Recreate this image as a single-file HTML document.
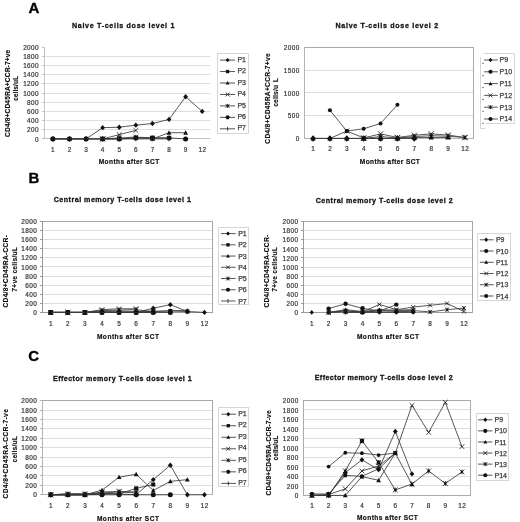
<!DOCTYPE html>
<html><head><meta charset="utf-8"><style>
html,body{margin:0;padding:0;background:#fff;width:520px;height:522px;overflow:hidden}
svg{display:block;filter:blur(0.3px)}
text{font-family:"Liberation Sans", sans-serif;fill:#333}
.t7{font-size:7px;stroke:#444;stroke-width:0.25px}
.tn{font-size:7.3px;letter-spacing:0.45px;stroke:#444;stroke-width:0.25px}
.tb{font-size:7.9px;font-weight:bold;fill:#111;stroke:#111;stroke-width:0.3px}
.tm{font-size:7.3px;font-weight:bold;fill:#111;stroke:#111;stroke-width:0.2px}
.ty{font-size:7.4px;font-weight:bold;fill:#111;stroke:#111;stroke-width:0.15px}
.big{font-size:15px;font-weight:bold;fill:#000;stroke:#000;stroke-width:0.35px}
</style></head><body>
<svg width="520" height="522" viewBox="0 0 520 522">
<rect width="520" height="522" fill="#fff"/>
<text x="28.5" y="12.9" class="big">A</text>
<text x="28.5" y="182.7" class="big">B</text>
<text x="28.2" y="360.8" class="big">C</text>
<line x1="44.60" y1="129.50" x2="210.50" y2="129.50" stroke="#dedede" stroke-width="1"/>
<line x1="44.60" y1="120.50" x2="210.50" y2="120.50" stroke="#dedede" stroke-width="1"/>
<line x1="44.60" y1="111.50" x2="210.50" y2="111.50" stroke="#dedede" stroke-width="1"/>
<line x1="44.60" y1="102.50" x2="210.50" y2="102.50" stroke="#dedede" stroke-width="1"/>
<line x1="44.60" y1="93.50" x2="210.50" y2="93.50" stroke="#dedede" stroke-width="1"/>
<line x1="44.60" y1="83.50" x2="210.50" y2="83.50" stroke="#dedede" stroke-width="1"/>
<line x1="44.60" y1="74.50" x2="210.50" y2="74.50" stroke="#dedede" stroke-width="1"/>
<line x1="44.60" y1="65.50" x2="210.50" y2="65.50" stroke="#dedede" stroke-width="1"/>
<line x1="44.60" y1="56.50" x2="210.50" y2="56.50" stroke="#dedede" stroke-width="1"/>
<line x1="44.50" y1="47.00" x2="44.50" y2="139.00" stroke="#c4c4c4" stroke-width="1"/>
<line x1="44.00" y1="138.50" x2="210.50" y2="138.50" stroke="#c4c4c4" stroke-width="1"/>
<line x1="42.00" y1="138.50" x2="44.50" y2="138.50" stroke="#c4c4c4" stroke-width="1"/>
<text transform="translate(39.00 141.50) scale(0.88,1)" text-anchor="end" class="tn">0</text>
<line x1="42.00" y1="129.50" x2="44.50" y2="129.50" stroke="#c4c4c4" stroke-width="1"/>
<text transform="translate(39.00 132.33) scale(0.88,1)" text-anchor="end" class="tn">200</text>
<line x1="42.00" y1="120.50" x2="44.50" y2="120.50" stroke="#c4c4c4" stroke-width="1"/>
<text transform="translate(39.00 123.16) scale(0.88,1)" text-anchor="end" class="tn">400</text>
<line x1="42.00" y1="111.50" x2="44.50" y2="111.50" stroke="#c4c4c4" stroke-width="1"/>
<text transform="translate(39.00 113.99) scale(0.88,1)" text-anchor="end" class="tn">600</text>
<line x1="42.00" y1="102.50" x2="44.50" y2="102.50" stroke="#c4c4c4" stroke-width="1"/>
<text transform="translate(39.00 104.82) scale(0.88,1)" text-anchor="end" class="tn">800</text>
<line x1="42.00" y1="93.50" x2="44.50" y2="93.50" stroke="#c4c4c4" stroke-width="1"/>
<text transform="translate(39.00 95.65) scale(0.88,1)" text-anchor="end" class="tn">1000</text>
<line x1="42.00" y1="83.50" x2="44.50" y2="83.50" stroke="#c4c4c4" stroke-width="1"/>
<text transform="translate(39.00 86.48) scale(0.88,1)" text-anchor="end" class="tn">1200</text>
<line x1="42.00" y1="74.50" x2="44.50" y2="74.50" stroke="#c4c4c4" stroke-width="1"/>
<text transform="translate(39.00 77.31) scale(0.88,1)" text-anchor="end" class="tn">1400</text>
<line x1="42.00" y1="65.50" x2="44.50" y2="65.50" stroke="#c4c4c4" stroke-width="1"/>
<text transform="translate(39.00 68.14) scale(0.88,1)" text-anchor="end" class="tn">1600</text>
<line x1="42.00" y1="56.50" x2="44.50" y2="56.50" stroke="#c4c4c4" stroke-width="1"/>
<text transform="translate(39.00 58.97) scale(0.88,1)" text-anchor="end" class="tn">1800</text>
<line x1="42.00" y1="47.50" x2="44.50" y2="47.50" stroke="#c4c4c4" stroke-width="1"/>
<text transform="translate(39.00 49.80) scale(0.88,1)" text-anchor="end" class="tn">2000</text>
<text transform="translate(53.09 151.70) scale(0.88,1)" text-anchor="middle" class="tn">1</text>
<text transform="translate(69.68 151.70) scale(0.88,1)" text-anchor="middle" class="tn">2</text>
<text transform="translate(86.27 151.70) scale(0.88,1)" text-anchor="middle" class="tn">3</text>
<text transform="translate(102.86 151.70) scale(0.88,1)" text-anchor="middle" class="tn">4</text>
<text transform="translate(119.45 151.70) scale(0.88,1)" text-anchor="middle" class="tn">5</text>
<text transform="translate(136.04 151.70) scale(0.88,1)" text-anchor="middle" class="tn">6</text>
<text transform="translate(152.63 151.70) scale(0.88,1)" text-anchor="middle" class="tn">7</text>
<text transform="translate(169.22 151.70) scale(0.88,1)" text-anchor="middle" class="tn">8</text>
<text transform="translate(185.81 151.70) scale(0.88,1)" text-anchor="middle" class="tn">9</text>
<text transform="translate(202.40 151.70) scale(0.88,1)" text-anchor="middle" class="tn">12</text>
<text transform="translate(72.00 27.70) scale(0.9,1)" class="tb" textLength="113.78" lengthAdjust="spacing">Naive T-cells dose level 1</text>
<text transform="translate(98.70 164.20) scale(0.9,1)" class="tm" textLength="67.22" lengthAdjust="spacing">Months after SCT</text>
<text transform="translate(9.60 93.35) rotate(-90) scale(0.9,1)" x="0" y="0" text-anchor="middle" class="ty" textLength="96.78" lengthAdjust="spacing">CD4/8+CD45RA+CCR-7+ve</text>
<text transform="translate(18.30 88.40) rotate(-90) scale(0.9,1)" x="0" y="0" text-anchor="middle" class="ty" textLength="27.78" lengthAdjust="spacing">cells/uL</text>
<path d="M52.90 138.90 L69.48 138.90 L86.08 138.90 L102.66 127.67 L119.25 127.21 L135.84 125.15 L152.44 123.54 L169.03 119.41 L185.61 96.72 L202.20 111.39" stroke="#3a3a3a" stroke-width="0.85" fill="none"/>
<path d="M52.90 136.21L55.30 138.90L52.90 141.59L50.50 138.90Z" fill="#111"/>
<path d="M69.48 136.21L71.89 138.90L69.48 141.59L67.08 138.90Z" fill="#111"/>
<path d="M86.08 136.21L88.48 138.90L86.08 141.59L83.67 138.90Z" fill="#111"/>
<path d="M102.66 124.98L105.06 127.67L102.66 130.35L100.26 127.67Z" fill="#111"/>
<path d="M119.25 124.52L121.66 127.21L119.25 129.90L116.85 127.21Z" fill="#111"/>
<path d="M135.84 122.46L138.25 125.15L135.84 127.83L133.44 125.15Z" fill="#111"/>
<path d="M152.44 120.85L154.84 123.54L152.44 126.23L150.03 123.54Z" fill="#111"/>
<path d="M169.03 116.73L171.43 119.41L169.03 122.10L166.62 119.41Z" fill="#111"/>
<path d="M185.61 94.03L188.01 96.72L185.61 99.41L183.21 96.72Z" fill="#111"/>
<path d="M202.20 108.70L204.60 111.39L202.20 114.08L199.80 111.39Z" fill="#111"/>
<path d="M52.90 138.90 L69.48 138.90 L86.08 138.90 L102.66 138.90 L119.25 138.90 L135.84 137.98 L152.44 137.98 L169.03 137.98" stroke="#3a3a3a" stroke-width="0.85" fill="none"/>
<rect x="50.86" y="136.86" width="4.08" height="4.08" fill="#111"/>
<rect x="67.44" y="136.86" width="4.08" height="4.08" fill="#111"/>
<rect x="84.03" y="136.86" width="4.08" height="4.08" fill="#111"/>
<rect x="100.62" y="136.86" width="4.08" height="4.08" fill="#111"/>
<rect x="117.21" y="136.86" width="4.08" height="4.08" fill="#111"/>
<rect x="133.81" y="135.94" width="4.08" height="4.08" fill="#111"/>
<rect x="150.40" y="135.94" width="4.08" height="4.08" fill="#111"/>
<rect x="166.99" y="135.94" width="4.08" height="4.08" fill="#111"/>
<path d="M152.44 138.90 L169.03 132.71 L185.61 132.71" stroke="#3a3a3a" stroke-width="0.85" fill="none"/>
<path d="M152.44 136.50L154.84 140.82L150.03 140.82Z" fill="#111"/>
<path d="M169.03 130.31L171.43 134.63L166.62 134.63Z" fill="#111"/>
<path d="M185.61 130.31L188.01 134.63L183.21 134.63Z" fill="#111"/>
<path d="M102.66 138.90 L119.25 134.64 L135.84 130.42" stroke="#3a3a3a" stroke-width="0.85" fill="none"/>
<path d="M100.26 136.50L105.06 141.30M105.06 136.50L100.26 141.30" stroke="#111" stroke-width="0.8" fill="none"/>
<path d="M116.85 132.24L121.66 137.04M121.66 132.24L116.85 137.04" stroke="#111" stroke-width="0.8" fill="none"/>
<path d="M133.44 128.02L138.25 132.82M138.25 128.02L133.44 132.82" stroke="#111" stroke-width="0.8" fill="none"/>
<path d="M102.66 138.90 L119.25 137.98 L135.84 137.07 L152.44 137.98" stroke="#3a3a3a" stroke-width="0.85" fill="none"/>
<path d="M100.26 136.50L105.06 141.30M105.06 136.50L100.26 141.30M102.66 136.50L102.66 141.30" stroke="#111" stroke-width="0.8" fill="none"/><rect x="101.58" y="137.82" width="2.16" height="2.16" fill="#111"/>
<path d="M116.85 135.58L121.66 140.38M121.66 135.58L116.85 140.38M119.25 135.58L119.25 140.38" stroke="#111" stroke-width="0.8" fill="none"/><rect x="118.17" y="136.90" width="2.16" height="2.16" fill="#111"/>
<path d="M133.44 134.67L138.25 139.47M138.25 134.67L133.44 139.47M135.84 134.67L135.84 139.47" stroke="#111" stroke-width="0.8" fill="none"/><rect x="134.76" y="135.99" width="2.16" height="2.16" fill="#111"/>
<path d="M150.03 135.58L154.84 140.38M154.84 135.58L150.03 140.38M152.44 135.58L152.44 140.38" stroke="#111" stroke-width="0.8" fill="none"/><rect x="151.35" y="136.90" width="2.16" height="2.16" fill="#111"/>
<path d="M52.90 138.90 L69.48 138.90 L86.08 138.90 L102.66 138.90 L119.25 138.90 L135.84 137.98 L152.44 137.98 L169.03 137.98 L185.61 138.90" stroke="#3a3a3a" stroke-width="0.85" fill="none"/>
<circle cx="52.90" cy="138.90" r="2.52" fill="#111"/>
<circle cx="69.48" cy="138.90" r="2.52" fill="#111"/>
<circle cx="86.08" cy="138.90" r="2.52" fill="#111"/>
<circle cx="102.66" cy="138.90" r="2.52" fill="#111"/>
<circle cx="119.25" cy="138.90" r="2.52" fill="#111"/>
<circle cx="135.84" cy="137.98" r="2.52" fill="#111"/>
<circle cx="152.44" cy="137.98" r="2.52" fill="#111"/>
<circle cx="169.03" cy="137.98" r="2.52" fill="#111"/>
<circle cx="185.61" cy="138.90" r="2.52" fill="#111"/>
<path d="M52.90 138.90 L69.48 138.90 L86.08 138.90 L102.66 138.90 L119.25 138.90 L135.84 138.90 L152.44 138.90 L169.03 138.90" stroke="#3a3a3a" stroke-width="0.85" fill="none"/>
<path d="M52.90 136.50L52.90 141.30" stroke="#111" stroke-width="0.8" fill="none"/>
<path d="M69.48 136.50L69.48 141.30" stroke="#111" stroke-width="0.8" fill="none"/>
<path d="M86.08 136.50L86.08 141.30" stroke="#111" stroke-width="0.8" fill="none"/>
<path d="M102.66 136.50L102.66 141.30" stroke="#111" stroke-width="0.8" fill="none"/>
<path d="M119.25 136.50L119.25 141.30" stroke="#111" stroke-width="0.8" fill="none"/>
<path d="M135.84 136.50L135.84 141.30" stroke="#111" stroke-width="0.8" fill="none"/>
<path d="M152.44 136.50L152.44 141.30" stroke="#111" stroke-width="0.8" fill="none"/>
<path d="M169.03 136.50L169.03 141.30" stroke="#111" stroke-width="0.8" fill="none"/>
<rect x="217.50" y="53.50" width="31.00" height="80.00" fill="none" stroke="#d6d6d6" stroke-width="1"/>
<line x1="219.90" y1="60.10" x2="235.00" y2="60.10" stroke="#555" stroke-width="1"/>
<path d="M227.60 57.92L229.55 60.10L227.60 62.28L225.65 60.10Z" fill="#111"/>
<text x="237.40" y="61.70" class="t7">P1</text>
<line x1="219.90" y1="71.55" x2="235.00" y2="71.55" stroke="#555" stroke-width="1"/>
<rect x="225.94" y="69.89" width="3.31" height="3.31" fill="#111"/>
<text x="237.40" y="73.15" class="t7">P2</text>
<line x1="219.90" y1="83.00" x2="235.00" y2="83.00" stroke="#555" stroke-width="1"/>
<path d="M227.60 81.05L229.55 84.56L225.65 84.56Z" fill="#111"/>
<text x="237.40" y="84.60" class="t7">P3</text>
<line x1="219.90" y1="94.45" x2="235.00" y2="94.45" stroke="#555" stroke-width="1"/>
<path d="M225.65 92.50L229.55 96.40M229.55 92.50L225.65 96.40" stroke="#111" stroke-width="0.8" fill="none"/>
<text x="237.40" y="96.05" class="t7">P4</text>
<line x1="219.90" y1="105.90" x2="235.00" y2="105.90" stroke="#555" stroke-width="1"/>
<path d="M225.65 103.95L229.55 107.85M229.55 103.95L225.65 107.85M227.60 103.95L227.60 107.85" stroke="#111" stroke-width="0.8" fill="none"/><rect x="226.72" y="105.02" width="1.75" height="1.75" fill="#111"/>
<text x="237.40" y="107.50" class="t7">P5</text>
<line x1="219.90" y1="117.35" x2="235.00" y2="117.35" stroke="#555" stroke-width="1"/>
<circle cx="227.60" cy="117.35" r="2.05" fill="#111"/>
<text x="237.40" y="118.95" class="t7">P6</text>
<line x1="219.90" y1="128.80" x2="235.00" y2="128.80" stroke="#555" stroke-width="1"/>
<path d="M227.60 126.85L227.60 130.75" stroke="#111" stroke-width="0.8" fill="none"/>
<text x="237.40" y="130.40" class="t7">P7</text>
<line x1="304.60" y1="115.50" x2="473.40" y2="115.50" stroke="#dedede" stroke-width="1"/>
<line x1="304.60" y1="92.50" x2="473.40" y2="92.50" stroke="#dedede" stroke-width="1"/>
<line x1="304.60" y1="70.50" x2="473.40" y2="70.50" stroke="#dedede" stroke-width="1"/>
<line x1="304.60" y1="47.50" x2="473.40" y2="47.50" stroke="#dedede" stroke-width="1"/>
<rect x="304.50" y="47.50" width="169.00" height="91.00" fill="none" stroke="#a8a8a8" stroke-width="1"/>
<line x1="304.50" y1="47.00" x2="304.50" y2="139.00" stroke="#b4b4b4" stroke-width="1"/>
<line x1="304.00" y1="138.50" x2="473.50" y2="138.50" stroke="#b4b4b4" stroke-width="1"/>
<text transform="translate(299.60 141.00) scale(0.88,1)" text-anchor="end" class="tn">0</text>
<text transform="translate(299.60 118.30) scale(0.88,1)" text-anchor="end" class="tn">500</text>
<text transform="translate(299.60 95.60) scale(0.88,1)" text-anchor="end" class="tn">1000</text>
<text transform="translate(299.60 72.90) scale(0.88,1)" text-anchor="end" class="tn">1500</text>
<text transform="translate(299.60 50.20) scale(0.88,1)" text-anchor="end" class="tn">2000</text>
<text transform="translate(313.24 151.30) scale(0.88,1)" text-anchor="middle" class="tn">1</text>
<text transform="translate(330.12 151.30) scale(0.88,1)" text-anchor="middle" class="tn">2</text>
<text transform="translate(347.00 151.30) scale(0.88,1)" text-anchor="middle" class="tn">3</text>
<text transform="translate(363.88 151.30) scale(0.88,1)" text-anchor="middle" class="tn">4</text>
<text transform="translate(380.76 151.30) scale(0.88,1)" text-anchor="middle" class="tn">5</text>
<text transform="translate(397.64 151.30) scale(0.88,1)" text-anchor="middle" class="tn">6</text>
<text transform="translate(414.52 151.30) scale(0.88,1)" text-anchor="middle" class="tn">7</text>
<text transform="translate(431.40 151.30) scale(0.88,1)" text-anchor="middle" class="tn">8</text>
<text transform="translate(448.28 151.30) scale(0.88,1)" text-anchor="middle" class="tn">9</text>
<text transform="translate(465.16 151.30) scale(0.88,1)" text-anchor="middle" class="tn">12</text>
<text transform="translate(335.50 28.30) scale(0.9,1)" class="tb" textLength="114.00" lengthAdjust="spacing">Naive T-cells dose level 2</text>
<text transform="translate(359.80 164.20) scale(0.9,1)" class="tm" textLength="66.67" lengthAdjust="spacing">Months after SCT</text>
<text transform="translate(270.40 98.55) rotate(-90) scale(0.9,1)" x="0" y="0" text-anchor="middle" class="ty" textLength="100.33" lengthAdjust="spacing">CD4/8+CD45RA+CCR-7+ve</text>
<text transform="translate(278.40 95.90) rotate(-90) scale(0.9,1)" x="0" y="0" text-anchor="middle" class="ty" textLength="24.22" lengthAdjust="spacing">cells/u</text>
<text transform="translate(278.20 80.30) rotate(-90) scale(0.9,1)" x="0" y="0" text-anchor="middle" class="ty">L</text>
<path d="M329.92 138.40 L346.80 131.05 L363.68 128.78 L380.56 123.42 L397.44 104.80" stroke="#3a3a3a" stroke-width="0.85" fill="none"/>
<circle cx="329.92" cy="138.40" r="1.99" fill="#111"/>
<circle cx="346.80" cy="131.05" r="1.99" fill="#111"/>
<circle cx="363.68" cy="128.78" r="1.99" fill="#111"/>
<circle cx="380.56" cy="123.42" r="1.99" fill="#111"/>
<circle cx="397.44" cy="104.80" r="1.99" fill="#111"/>
<path d="M313.04 138.40 L329.92 138.40 L346.80 138.40 L363.68 138.40 L380.56 138.40 L397.44 138.40 L414.32 137.49 L431.20 137.49 L448.08 137.49" stroke="#3a3a3a" stroke-width="0.85" fill="none"/>
<path d="M313.04 135.80L315.64 140.48L310.44 140.48Z" fill="#111"/>
<path d="M329.92 135.80L332.52 140.48L327.32 140.48Z" fill="#111"/>
<path d="M346.80 135.80L349.40 140.48L344.20 140.48Z" fill="#111"/>
<path d="M363.68 135.80L366.28 140.48L361.08 140.48Z" fill="#111"/>
<path d="M380.56 135.80L383.16 140.48L377.96 140.48Z" fill="#111"/>
<path d="M397.44 135.80L400.04 140.48L394.84 140.48Z" fill="#111"/>
<path d="M414.32 134.89L416.92 139.57L411.72 139.57Z" fill="#111"/>
<path d="M431.20 134.89L433.80 139.57L428.60 139.57Z" fill="#111"/>
<path d="M448.08 134.89L450.68 139.57L445.48 139.57Z" fill="#111"/>
<path d="M346.80 131.05 L363.68 137.95 L380.56 133.86 L397.44 137.49 L414.32 135.27 L431.20 133.86 L448.08 135.09 L464.96 137.49" stroke="#3a3a3a" stroke-width="0.85" fill="none"/>
<path d="M344.20 128.45L349.40 133.65M349.40 128.45L344.20 133.65" stroke="#111" stroke-width="0.8" fill="none"/>
<path d="M361.08 135.35L366.28 140.55M366.28 135.35L361.08 140.55" stroke="#111" stroke-width="0.8" fill="none"/>
<path d="M377.96 131.26L383.16 136.46M383.16 131.26L377.96 136.46" stroke="#111" stroke-width="0.8" fill="none"/>
<path d="M394.84 134.89L400.04 140.09M400.04 134.89L394.84 140.09" stroke="#111" stroke-width="0.8" fill="none"/>
<path d="M411.72 132.67L416.92 137.87M416.92 132.67L411.72 137.87" stroke="#111" stroke-width="0.8" fill="none"/>
<path d="M428.60 131.26L433.80 136.46M433.80 131.26L428.60 136.46" stroke="#111" stroke-width="0.8" fill="none"/>
<path d="M445.48 132.49L450.68 137.69M450.68 132.49L445.48 137.69" stroke="#111" stroke-width="0.8" fill="none"/>
<path d="M462.36 134.89L467.56 140.09M467.56 134.89L462.36 140.09" stroke="#111" stroke-width="0.8" fill="none"/>
<path d="M363.68 138.40 L380.56 136.58 L397.44 137.95 L414.32 136.58 L431.20 135.68 L448.08 136.27 L464.96 137.49" stroke="#3a3a3a" stroke-width="0.85" fill="none"/>
<path d="M361.08 135.80L366.28 141.00M366.28 135.80L361.08 141.00M363.68 135.80L363.68 141.00" stroke="#111" stroke-width="0.8" fill="none"/><rect x="362.51" y="137.23" width="2.34" height="2.34" fill="#111"/>
<path d="M377.96 133.98L383.16 139.18M383.16 133.98L377.96 139.18M380.56 133.98L380.56 139.18" stroke="#111" stroke-width="0.8" fill="none"/><rect x="379.39" y="135.41" width="2.34" height="2.34" fill="#111"/>
<path d="M394.84 135.35L400.04 140.55M400.04 135.35L394.84 140.55M397.44 135.35L397.44 140.55" stroke="#111" stroke-width="0.8" fill="none"/><rect x="396.27" y="136.78" width="2.34" height="2.34" fill="#111"/>
<path d="M411.72 133.98L416.92 139.18M416.92 133.98L411.72 139.18M414.32 133.98L414.32 139.18" stroke="#111" stroke-width="0.8" fill="none"/><rect x="413.15" y="135.41" width="2.34" height="2.34" fill="#111"/>
<path d="M428.60 133.08L433.80 138.28M433.80 133.08L428.60 138.28M431.20 133.08L431.20 138.28" stroke="#111" stroke-width="0.8" fill="none"/><rect x="430.03" y="134.51" width="2.34" height="2.34" fill="#111"/>
<path d="M445.48 133.67L450.68 138.87M450.68 133.67L445.48 138.87M448.08 133.67L448.08 138.87" stroke="#111" stroke-width="0.8" fill="none"/><rect x="446.91" y="135.10" width="2.34" height="2.34" fill="#111"/>
<path d="M462.36 134.89L467.56 140.09M467.56 134.89L462.36 140.09M464.96 134.89L464.96 140.09" stroke="#111" stroke-width="0.8" fill="none"/><rect x="463.79" y="136.32" width="2.34" height="2.34" fill="#111"/>
<path d="M329.92 110.25 L346.80 131.05" stroke="#3a3a3a" stroke-width="0.85" fill="none"/>
<circle cx="329.92" cy="110.25" r="1.99" fill="#111"/>
<circle cx="346.80" cy="131.05" r="1.99" fill="#111"/>
<path d="M313.04 138.40 L329.92 138.40 L346.80 138.40 L363.68 138.40 L380.56 138.40 L397.44 138.40 L414.32 138.40" stroke="#3a3a3a" stroke-width="0.85" fill="none"/>
<path d="M313.04 135.15L315.94 138.40L313.04 141.65L310.14 138.40Z" fill="#111"/>
<path d="M329.92 135.15L332.82 138.40L329.92 141.65L327.02 138.40Z" fill="#111"/>
<path d="M346.80 135.15L349.70 138.40L346.80 141.65L343.90 138.40Z" fill="#111"/>
<path d="M363.68 135.15L366.58 138.40L363.68 141.65L360.78 138.40Z" fill="#111"/>
<path d="M380.56 135.15L383.46 138.40L380.56 141.65L377.66 138.40Z" fill="#111"/>
<path d="M397.44 135.15L400.34 138.40L397.44 141.65L394.54 138.40Z" fill="#111"/>
<path d="M414.32 135.15L417.22 138.40L414.32 141.65L411.42 138.40Z" fill="#111"/>
<path d="M483.5 53.5H514.5V123.5H485.5" fill="none" stroke="#d6d6d6" stroke-width="1"/>
<path d="M480.5 57L480.5 128.5L485 128.5" fill="none" stroke="#d6d6d6" stroke-width="1"/>
<line x1="482" y1="63.4" x2="484" y2="63.4" stroke="#666" stroke-width="0.8"/>
<line x1="482" y1="75.6" x2="484" y2="75.6" stroke="#666" stroke-width="0.8"/>
<line x1="482" y1="87.6" x2="484" y2="87.6" stroke="#666" stroke-width="0.8"/>
<line x1="482" y1="99.4" x2="484" y2="99.4" stroke="#666" stroke-width="0.8"/>
<line x1="482" y1="111.3" x2="484" y2="111.3" stroke="#666" stroke-width="0.8"/>
<line x1="482" y1="123.2" x2="484" y2="123.2" stroke="#666" stroke-width="0.8"/>
<line x1="484.10" y1="60.00" x2="497.80" y2="60.00" stroke="#555" stroke-width="1"/>
<path d="M490.50 57.82L492.45 60.00L490.50 62.18L488.55 60.00Z" fill="#111"/>
<text x="499.60" y="62.40" class="t7">P9</text>
<line x1="484.10" y1="71.80" x2="497.80" y2="71.80" stroke="#555" stroke-width="1"/>
<circle cx="490.50" cy="71.80" r="2.05" fill="#111"/>
<text x="499.60" y="74.20" class="t7">P10</text>
<line x1="484.10" y1="83.60" x2="497.80" y2="83.60" stroke="#555" stroke-width="1"/>
<path d="M490.50 81.65L492.45 85.16L488.55 85.16Z" fill="#111"/>
<text x="499.60" y="86.00" class="t7">P11</text>
<line x1="484.10" y1="95.40" x2="497.80" y2="95.40" stroke="#555" stroke-width="1"/>
<path d="M488.55 93.45L492.45 97.35M492.45 93.45L488.55 97.35" stroke="#111" stroke-width="0.8" fill="none"/>
<text x="499.60" y="97.80" class="t7">P12</text>
<line x1="484.10" y1="107.20" x2="497.80" y2="107.20" stroke="#555" stroke-width="1"/>
<path d="M488.55 105.25L492.45 109.15M492.45 105.25L488.55 109.15M490.50 105.25L490.50 109.15" stroke="#111" stroke-width="0.8" fill="none"/><rect x="489.62" y="106.32" width="1.75" height="1.75" fill="#111"/>
<text x="499.60" y="109.60" class="t7">P13</text>
<line x1="484.10" y1="119.00" x2="497.80" y2="119.00" stroke="#555" stroke-width="1"/>
<circle cx="490.50" cy="119.00" r="2.05" fill="#111"/>
<text x="499.60" y="121.40" class="t7">P14</text>
<line x1="42.20" y1="303.50" x2="213.00" y2="303.50" stroke="#dedede" stroke-width="1"/>
<line x1="42.20" y1="294.50" x2="213.00" y2="294.50" stroke="#dedede" stroke-width="1"/>
<line x1="42.20" y1="285.50" x2="213.00" y2="285.50" stroke="#dedede" stroke-width="1"/>
<line x1="42.20" y1="276.50" x2="213.00" y2="276.50" stroke="#dedede" stroke-width="1"/>
<line x1="42.20" y1="266.50" x2="213.00" y2="266.50" stroke="#dedede" stroke-width="1"/>
<line x1="42.20" y1="257.50" x2="213.00" y2="257.50" stroke="#dedede" stroke-width="1"/>
<line x1="42.20" y1="248.50" x2="213.00" y2="248.50" stroke="#dedede" stroke-width="1"/>
<line x1="42.20" y1="239.50" x2="213.00" y2="239.50" stroke="#dedede" stroke-width="1"/>
<line x1="42.20" y1="230.50" x2="213.00" y2="230.50" stroke="#dedede" stroke-width="1"/>
<line x1="42.20" y1="221.50" x2="213.00" y2="221.50" stroke="#dedede" stroke-width="1"/>
<rect x="42.50" y="221.50" width="170.00" height="91.00" fill="none" stroke="#a8a8a8" stroke-width="1"/>
<line x1="42.50" y1="221.00" x2="42.50" y2="313.00" stroke="#9a9a9a" stroke-width="1"/>
<line x1="42.00" y1="312.50" x2="212.50" y2="312.50" stroke="#9a9a9a" stroke-width="1"/>
<line x1="40.00" y1="312.50" x2="42.50" y2="312.50" stroke="#9a9a9a" stroke-width="1"/>
<text transform="translate(37.20 315.00) scale(0.88,1)" text-anchor="end" class="tn">0</text>
<line x1="40.00" y1="303.50" x2="42.50" y2="303.50" stroke="#9a9a9a" stroke-width="1"/>
<text transform="translate(37.20 305.91) scale(0.88,1)" text-anchor="end" class="tn">200</text>
<line x1="40.00" y1="294.50" x2="42.50" y2="294.50" stroke="#9a9a9a" stroke-width="1"/>
<text transform="translate(37.20 296.82) scale(0.88,1)" text-anchor="end" class="tn">400</text>
<line x1="40.00" y1="285.50" x2="42.50" y2="285.50" stroke="#9a9a9a" stroke-width="1"/>
<text transform="translate(37.20 287.73) scale(0.88,1)" text-anchor="end" class="tn">600</text>
<line x1="40.00" y1="276.50" x2="42.50" y2="276.50" stroke="#9a9a9a" stroke-width="1"/>
<text transform="translate(37.20 278.64) scale(0.88,1)" text-anchor="end" class="tn">800</text>
<line x1="40.00" y1="266.50" x2="42.50" y2="266.50" stroke="#9a9a9a" stroke-width="1"/>
<text transform="translate(37.20 269.55) scale(0.88,1)" text-anchor="end" class="tn">1000</text>
<line x1="40.00" y1="257.50" x2="42.50" y2="257.50" stroke="#9a9a9a" stroke-width="1"/>
<text transform="translate(37.20 260.46) scale(0.88,1)" text-anchor="end" class="tn">1200</text>
<line x1="40.00" y1="248.50" x2="42.50" y2="248.50" stroke="#9a9a9a" stroke-width="1"/>
<text transform="translate(37.20 251.37) scale(0.88,1)" text-anchor="end" class="tn">1400</text>
<line x1="40.00" y1="239.50" x2="42.50" y2="239.50" stroke="#9a9a9a" stroke-width="1"/>
<text transform="translate(37.20 242.28) scale(0.88,1)" text-anchor="end" class="tn">1600</text>
<line x1="40.00" y1="230.50" x2="42.50" y2="230.50" stroke="#9a9a9a" stroke-width="1"/>
<text transform="translate(37.20 233.19) scale(0.88,1)" text-anchor="end" class="tn">1800</text>
<line x1="40.00" y1="221.50" x2="42.50" y2="221.50" stroke="#9a9a9a" stroke-width="1"/>
<text transform="translate(37.20 224.10) scale(0.88,1)" text-anchor="end" class="tn">2000</text>
<text transform="translate(50.94 325.70) scale(0.88,1)" text-anchor="middle" class="tn">1</text>
<text transform="translate(68.02 325.70) scale(0.88,1)" text-anchor="middle" class="tn">2</text>
<text transform="translate(85.10 325.70) scale(0.88,1)" text-anchor="middle" class="tn">3</text>
<text transform="translate(102.18 325.70) scale(0.88,1)" text-anchor="middle" class="tn">4</text>
<text transform="translate(119.26 325.70) scale(0.88,1)" text-anchor="middle" class="tn">5</text>
<text transform="translate(136.34 325.70) scale(0.88,1)" text-anchor="middle" class="tn">6</text>
<text transform="translate(153.42 325.70) scale(0.88,1)" text-anchor="middle" class="tn">7</text>
<text transform="translate(170.50 325.70) scale(0.88,1)" text-anchor="middle" class="tn">8</text>
<text transform="translate(187.58 325.70) scale(0.88,1)" text-anchor="middle" class="tn">9</text>
<text transform="translate(204.66 325.70) scale(0.88,1)" text-anchor="middle" class="tn">12</text>
<text transform="translate(53.70 202.40) scale(0.9,1)" class="tb" textLength="152.44" lengthAdjust="spacing">Central memory T-cells dose level 1</text>
<text transform="translate(96.90 338.60) scale(0.9,1)" class="tm" textLength="68.89" lengthAdjust="spacing">Months after SCT</text>
<text transform="translate(8.30 271.30) rotate(-90) scale(0.9,1)" x="0" y="0" text-anchor="middle" class="ty" textLength="80.44" lengthAdjust="spacing">CD4/8+CD45RA-CCR-</text>
<text transform="translate(16.60 269.40) rotate(-90) scale(0.9,1)" x="0" y="0" text-anchor="middle" class="ty" textLength="49.56" lengthAdjust="spacing">7+ve cells/uL</text>
<path d="M50.74 312.40 L67.82 312.40 L84.90 312.40 L101.98 311.95 L119.06 311.95 L136.14 312.40 L153.22 308.22 L170.30 304.67 L187.38 311.49 L204.46 312.40" stroke="#3a3a3a" stroke-width="0.85" fill="none"/>
<path d="M50.74 309.71L53.14 312.40L50.74 315.09L48.34 312.40Z" fill="#111"/>
<path d="M67.82 309.71L70.22 312.40L67.82 315.09L65.42 312.40Z" fill="#111"/>
<path d="M84.90 309.71L87.30 312.40L84.90 315.09L82.50 312.40Z" fill="#111"/>
<path d="M101.98 309.26L104.38 311.95L101.98 314.63L99.58 311.95Z" fill="#111"/>
<path d="M119.06 309.26L121.46 311.95L119.06 314.63L116.66 311.95Z" fill="#111"/>
<path d="M136.14 309.71L138.54 312.40L136.14 315.09L133.74 312.40Z" fill="#111"/>
<path d="M153.22 305.53L155.62 308.22L153.22 310.91L150.82 308.22Z" fill="#111"/>
<path d="M170.30 301.99L172.70 304.67L170.30 307.36L167.90 304.67Z" fill="#111"/>
<path d="M187.38 308.80L189.78 311.49L187.38 314.18L184.98 311.49Z" fill="#111"/>
<path d="M204.46 309.71L206.86 312.40L204.46 315.09L202.06 312.40Z" fill="#111"/>
<path d="M50.74 312.40 L67.82 312.40 L84.90 312.40 L101.98 312.40 L119.06 312.40 L136.14 312.40 L153.22 311.49 L170.30 311.04 L187.38 311.49" stroke="#3a3a3a" stroke-width="0.85" fill="none"/>
<rect x="48.70" y="310.36" width="4.08" height="4.08" fill="#111"/>
<rect x="65.78" y="310.36" width="4.08" height="4.08" fill="#111"/>
<rect x="82.86" y="310.36" width="4.08" height="4.08" fill="#111"/>
<rect x="99.94" y="310.36" width="4.08" height="4.08" fill="#111"/>
<rect x="117.02" y="310.36" width="4.08" height="4.08" fill="#111"/>
<rect x="134.10" y="310.36" width="4.08" height="4.08" fill="#111"/>
<rect x="151.18" y="309.45" width="4.08" height="4.08" fill="#111"/>
<rect x="168.26" y="309.00" width="4.08" height="4.08" fill="#111"/>
<rect x="185.34" y="309.45" width="4.08" height="4.08" fill="#111"/>
<path d="M50.74 312.40 L67.82 312.40 L84.90 312.40 L101.98 311.49 L119.06 311.04 L136.14 311.49 L153.22 311.49 L170.30 310.58 L187.38 310.58" stroke="#3a3a3a" stroke-width="0.85" fill="none"/>
<path d="M50.74 310.00L53.14 314.32L48.34 314.32Z" fill="#111"/>
<path d="M67.82 310.00L70.22 314.32L65.42 314.32Z" fill="#111"/>
<path d="M84.90 310.00L87.30 314.32L82.50 314.32Z" fill="#111"/>
<path d="M101.98 309.09L104.38 313.41L99.58 313.41Z" fill="#111"/>
<path d="M119.06 308.64L121.46 312.96L116.66 312.96Z" fill="#111"/>
<path d="M136.14 309.09L138.54 313.41L133.74 313.41Z" fill="#111"/>
<path d="M153.22 309.09L155.62 313.41L150.82 313.41Z" fill="#111"/>
<path d="M170.30 308.18L172.70 312.50L167.90 312.50Z" fill="#111"/>
<path d="M187.38 308.18L189.78 312.50L184.98 312.50Z" fill="#111"/>
<path d="M50.74 312.40 L67.82 312.40 L84.90 312.40 L101.98 309.67 L119.06 308.76 L136.14 308.76" stroke="#3a3a3a" stroke-width="0.85" fill="none"/>
<path d="M48.34 310.00L53.14 314.80M53.14 310.00L48.34 314.80" stroke="#111" stroke-width="0.8" fill="none"/>
<path d="M65.42 310.00L70.22 314.80M70.22 310.00L65.42 314.80" stroke="#111" stroke-width="0.8" fill="none"/>
<path d="M82.50 310.00L87.30 314.80M87.30 310.00L82.50 314.80" stroke="#111" stroke-width="0.8" fill="none"/>
<path d="M99.58 307.27L104.38 312.07M104.38 307.27L99.58 312.07" stroke="#111" stroke-width="0.8" fill="none"/>
<path d="M116.66 306.36L121.46 311.16M121.46 306.36L116.66 311.16" stroke="#111" stroke-width="0.8" fill="none"/>
<path d="M133.74 306.36L138.54 311.16M138.54 306.36L133.74 311.16" stroke="#111" stroke-width="0.8" fill="none"/>
<path d="M50.74 312.40 L67.82 312.40 L84.90 312.40 L101.98 310.58 L119.06 310.13 L136.14 309.67 L153.22 311.49" stroke="#3a3a3a" stroke-width="0.85" fill="none"/>
<path d="M48.34 310.00L53.14 314.80M53.14 310.00L48.34 314.80M50.74 310.00L50.74 314.80" stroke="#111" stroke-width="0.8" fill="none"/><rect x="49.66" y="311.32" width="2.16" height="2.16" fill="#111"/>
<path d="M65.42 310.00L70.22 314.80M70.22 310.00L65.42 314.80M67.82 310.00L67.82 314.80" stroke="#111" stroke-width="0.8" fill="none"/><rect x="66.74" y="311.32" width="2.16" height="2.16" fill="#111"/>
<path d="M82.50 310.00L87.30 314.80M87.30 310.00L82.50 314.80M84.90 310.00L84.90 314.80" stroke="#111" stroke-width="0.8" fill="none"/><rect x="83.82" y="311.32" width="2.16" height="2.16" fill="#111"/>
<path d="M99.58 308.18L104.38 312.98M104.38 308.18L99.58 312.98M101.98 308.18L101.98 312.98" stroke="#111" stroke-width="0.8" fill="none"/><rect x="100.90" y="309.50" width="2.16" height="2.16" fill="#111"/>
<path d="M116.66 307.73L121.46 312.53M121.46 307.73L116.66 312.53M119.06 307.73L119.06 312.53" stroke="#111" stroke-width="0.8" fill="none"/><rect x="117.98" y="309.05" width="2.16" height="2.16" fill="#111"/>
<path d="M133.74 307.27L138.54 312.07M138.54 307.27L133.74 312.07M136.14 307.27L136.14 312.07" stroke="#111" stroke-width="0.8" fill="none"/><rect x="135.06" y="308.59" width="2.16" height="2.16" fill="#111"/>
<path d="M150.82 309.09L155.62 313.89M155.62 309.09L150.82 313.89M153.22 309.09L153.22 313.89" stroke="#111" stroke-width="0.8" fill="none"/><rect x="152.14" y="310.41" width="2.16" height="2.16" fill="#111"/>
<path d="M50.74 312.40 L67.82 312.40 L84.90 312.40 L101.98 312.40 L119.06 312.40 L136.14 312.40 L153.22 312.40 L170.30 312.40" stroke="#3a3a3a" stroke-width="0.85" fill="none"/>
<circle cx="50.74" cy="312.40" r="2.52" fill="#111"/>
<circle cx="67.82" cy="312.40" r="2.52" fill="#111"/>
<circle cx="84.90" cy="312.40" r="2.52" fill="#111"/>
<circle cx="101.98" cy="312.40" r="2.52" fill="#111"/>
<circle cx="119.06" cy="312.40" r="2.52" fill="#111"/>
<circle cx="136.14" cy="312.40" r="2.52" fill="#111"/>
<circle cx="153.22" cy="312.40" r="2.52" fill="#111"/>
<circle cx="170.30" cy="312.40" r="2.52" fill="#111"/>
<path d="M50.74 312.40 L67.82 312.40 L84.90 312.40 L101.98 312.40 L119.06 312.40 L136.14 312.40 L153.22 312.40" stroke="#3a3a3a" stroke-width="0.85" fill="none"/>
<path d="M50.74 310.00L50.74 314.80" stroke="#111" stroke-width="0.8" fill="none"/>
<path d="M67.82 310.00L67.82 314.80" stroke="#111" stroke-width="0.8" fill="none"/>
<path d="M84.90 310.00L84.90 314.80" stroke="#111" stroke-width="0.8" fill="none"/>
<path d="M101.98 310.00L101.98 314.80" stroke="#111" stroke-width="0.8" fill="none"/>
<path d="M119.06 310.00L119.06 314.80" stroke="#111" stroke-width="0.8" fill="none"/>
<path d="M136.14 310.00L136.14 314.80" stroke="#111" stroke-width="0.8" fill="none"/>
<path d="M153.22 310.00L153.22 314.80" stroke="#111" stroke-width="0.8" fill="none"/>
<rect x="218.50" y="227.50" width="30.00" height="77.00" fill="none" stroke="#d6d6d6" stroke-width="1"/>
<line x1="221.00" y1="233.60" x2="235.60" y2="233.60" stroke="#555" stroke-width="1"/>
<path d="M228.00 231.42L229.95 233.60L228.00 235.78L226.05 233.60Z" fill="#111"/>
<text x="238.20" y="236.20" class="t7">P1</text>
<line x1="221.00" y1="244.83" x2="235.60" y2="244.83" stroke="#555" stroke-width="1"/>
<rect x="226.34" y="243.17" width="3.31" height="3.31" fill="#111"/>
<text x="238.20" y="247.43" class="t7">P2</text>
<line x1="221.00" y1="256.06" x2="235.60" y2="256.06" stroke="#555" stroke-width="1"/>
<path d="M228.00 254.11L229.95 257.62L226.05 257.62Z" fill="#111"/>
<text x="238.20" y="258.66" class="t7">P3</text>
<line x1="221.00" y1="267.29" x2="235.60" y2="267.29" stroke="#555" stroke-width="1"/>
<path d="M226.05 265.34L229.95 269.24M229.95 265.34L226.05 269.24" stroke="#111" stroke-width="0.8" fill="none"/>
<text x="238.20" y="269.89" class="t7">P4</text>
<line x1="221.00" y1="278.52" x2="235.60" y2="278.52" stroke="#555" stroke-width="1"/>
<path d="M226.05 276.57L229.95 280.47M229.95 276.57L226.05 280.47M228.00 276.57L228.00 280.47" stroke="#111" stroke-width="0.8" fill="none"/><rect x="227.12" y="277.64" width="1.75" height="1.75" fill="#111"/>
<text x="238.20" y="281.12" class="t7">P5</text>
<line x1="221.00" y1="289.75" x2="235.60" y2="289.75" stroke="#555" stroke-width="1"/>
<circle cx="228.00" cy="289.75" r="2.05" fill="#111"/>
<text x="238.20" y="292.35" class="t7">P6</text>
<line x1="221.00" y1="300.98" x2="235.60" y2="300.98" stroke="#555" stroke-width="1"/>
<path d="M228.00 299.03L228.00 302.93" stroke="#111" stroke-width="0.8" fill="none"/>
<text x="238.20" y="303.58" class="t7">P7</text>
<line x1="303.30" y1="303.50" x2="472.40" y2="303.50" stroke="#dedede" stroke-width="1"/>
<line x1="303.30" y1="294.50" x2="472.40" y2="294.50" stroke="#dedede" stroke-width="1"/>
<line x1="303.30" y1="285.50" x2="472.40" y2="285.50" stroke="#dedede" stroke-width="1"/>
<line x1="303.30" y1="276.50" x2="472.40" y2="276.50" stroke="#dedede" stroke-width="1"/>
<line x1="303.30" y1="267.50" x2="472.40" y2="267.50" stroke="#dedede" stroke-width="1"/>
<line x1="303.30" y1="257.50" x2="472.40" y2="257.50" stroke="#dedede" stroke-width="1"/>
<line x1="303.30" y1="248.50" x2="472.40" y2="248.50" stroke="#dedede" stroke-width="1"/>
<line x1="303.30" y1="239.50" x2="472.40" y2="239.50" stroke="#dedede" stroke-width="1"/>
<line x1="303.30" y1="230.50" x2="472.40" y2="230.50" stroke="#dedede" stroke-width="1"/>
<line x1="303.30" y1="221.50" x2="472.40" y2="221.50" stroke="#dedede" stroke-width="1"/>
<rect x="303.50" y="221.50" width="169.00" height="91.00" fill="none" stroke="#a8a8a8" stroke-width="1"/>
<line x1="303.50" y1="221.00" x2="303.50" y2="313.00" stroke="#9a9a9a" stroke-width="1"/>
<line x1="303.00" y1="312.50" x2="472.50" y2="312.50" stroke="#9a9a9a" stroke-width="1"/>
<line x1="301.00" y1="312.50" x2="303.50" y2="312.50" stroke="#9a9a9a" stroke-width="1"/>
<text transform="translate(298.40 315.00) scale(0.88,1)" text-anchor="end" class="tn">0</text>
<line x1="301.00" y1="303.50" x2="303.50" y2="303.50" stroke="#9a9a9a" stroke-width="1"/>
<text transform="translate(298.40 305.93) scale(0.88,1)" text-anchor="end" class="tn">200</text>
<line x1="301.00" y1="294.50" x2="303.50" y2="294.50" stroke="#9a9a9a" stroke-width="1"/>
<text transform="translate(298.40 296.86) scale(0.88,1)" text-anchor="end" class="tn">400</text>
<line x1="301.00" y1="285.50" x2="303.50" y2="285.50" stroke="#9a9a9a" stroke-width="1"/>
<text transform="translate(298.40 287.79) scale(0.88,1)" text-anchor="end" class="tn">600</text>
<line x1="301.00" y1="276.50" x2="303.50" y2="276.50" stroke="#9a9a9a" stroke-width="1"/>
<text transform="translate(298.40 278.72) scale(0.88,1)" text-anchor="end" class="tn">800</text>
<line x1="301.00" y1="267.50" x2="303.50" y2="267.50" stroke="#9a9a9a" stroke-width="1"/>
<text transform="translate(298.40 269.65) scale(0.88,1)" text-anchor="end" class="tn">1000</text>
<line x1="301.00" y1="257.50" x2="303.50" y2="257.50" stroke="#9a9a9a" stroke-width="1"/>
<text transform="translate(298.40 260.58) scale(0.88,1)" text-anchor="end" class="tn">1200</text>
<line x1="301.00" y1="248.50" x2="303.50" y2="248.50" stroke="#9a9a9a" stroke-width="1"/>
<text transform="translate(298.40 251.51) scale(0.88,1)" text-anchor="end" class="tn">1400</text>
<line x1="301.00" y1="239.50" x2="303.50" y2="239.50" stroke="#9a9a9a" stroke-width="1"/>
<text transform="translate(298.40 242.44) scale(0.88,1)" text-anchor="end" class="tn">1600</text>
<line x1="301.00" y1="230.50" x2="303.50" y2="230.50" stroke="#9a9a9a" stroke-width="1"/>
<text transform="translate(298.40 233.37) scale(0.88,1)" text-anchor="end" class="tn">1800</text>
<line x1="301.00" y1="221.50" x2="303.50" y2="221.50" stroke="#9a9a9a" stroke-width="1"/>
<text transform="translate(298.40 224.30) scale(0.88,1)" text-anchor="end" class="tn">2000</text>
<text transform="translate(311.95 325.70) scale(0.88,1)" text-anchor="middle" class="tn">1</text>
<text transform="translate(328.86 325.70) scale(0.88,1)" text-anchor="middle" class="tn">2</text>
<text transform="translate(345.77 325.70) scale(0.88,1)" text-anchor="middle" class="tn">3</text>
<text transform="translate(362.68 325.70) scale(0.88,1)" text-anchor="middle" class="tn">4</text>
<text transform="translate(379.59 325.70) scale(0.88,1)" text-anchor="middle" class="tn">5</text>
<text transform="translate(396.50 325.70) scale(0.88,1)" text-anchor="middle" class="tn">6</text>
<text transform="translate(413.41 325.70) scale(0.88,1)" text-anchor="middle" class="tn">7</text>
<text transform="translate(430.32 325.70) scale(0.88,1)" text-anchor="middle" class="tn">8</text>
<text transform="translate(447.23 325.70) scale(0.88,1)" text-anchor="middle" class="tn">9</text>
<text transform="translate(464.14 325.70) scale(0.88,1)" text-anchor="middle" class="tn">12</text>
<text transform="translate(315.70 202.50) scale(0.9,1)" class="tb" textLength="152.11" lengthAdjust="spacing">Central memory T-cells dose level 2</text>
<text transform="translate(356.90 338.70) scale(0.9,1)" class="tm" textLength="68.89" lengthAdjust="spacing">Months after SCT</text>
<text transform="translate(269.10 271.15) rotate(-90) scale(0.9,1)" x="0" y="0" text-anchor="middle" class="ty" textLength="81.00" lengthAdjust="spacing">CD4/8+CD45RA-CCR-</text>
<text transform="translate(277.00 269.50) rotate(-90) scale(0.9,1)" x="0" y="0" text-anchor="middle" class="ty" textLength="49.56" lengthAdjust="spacing">7+ve cells/uL</text>
<path d="M345.57 312.40 L362.49 312.40 L379.39 312.40 L396.31 312.40 L413.21 312.40" stroke="#3a3a3a" stroke-width="0.85" fill="none"/>
<path d="M311.75 310.05L313.86 312.40L311.75 314.75L309.65 312.40Z" fill="#111"/>
<path d="M345.57 310.05L347.68 312.40L345.57 314.75L343.47 312.40Z" fill="#111"/>
<path d="M362.49 310.05L364.59 312.40L362.49 314.75L360.38 312.40Z" fill="#111"/>
<path d="M379.39 310.05L381.50 312.40L379.39 314.75L377.29 312.40Z" fill="#111"/>
<path d="M396.31 310.05L398.41 312.40L396.31 314.75L394.20 312.40Z" fill="#111"/>
<path d="M413.21 310.05L415.31 312.40L413.21 314.75L411.11 312.40Z" fill="#111"/>
<path d="M328.67 312.40 L345.57 310.59 L362.49 312.40 L379.39 310.59 L396.31 311.49 L413.21 311.49" stroke="#3a3a3a" stroke-width="0.85" fill="none"/>
<circle cx="328.67" cy="312.40" r="2.21" fill="#111"/>
<circle cx="345.57" cy="310.59" r="2.21" fill="#111"/>
<circle cx="362.49" cy="312.40" r="2.21" fill="#111"/>
<circle cx="379.39" cy="310.59" r="2.21" fill="#111"/>
<circle cx="396.31" cy="311.49" r="2.21" fill="#111"/>
<circle cx="413.21" cy="311.49" r="2.21" fill="#111"/>
<path d="M328.67 312.40 L345.57 309.68 L362.49 311.49 L379.39 309.68 L396.31 310.13 L413.21 309.68" stroke="#3a3a3a" stroke-width="0.85" fill="none"/>
<path d="M328.67 310.30L330.77 314.08L326.56 314.08Z" fill="#111"/>
<path d="M345.57 307.58L347.68 311.36L343.47 311.36Z" fill="#111"/>
<path d="M362.49 309.39L364.59 313.17L360.38 313.17Z" fill="#111"/>
<path d="M379.39 307.58L381.50 311.36L377.29 311.36Z" fill="#111"/>
<path d="M396.31 308.03L398.41 311.81L394.20 311.81Z" fill="#111"/>
<path d="M413.21 307.58L415.31 311.36L411.11 311.36Z" fill="#111"/>
<path d="M328.67 312.40 L345.57 311.04 L362.49 311.95 L379.39 304.42 L396.31 309.68 L413.21 307.09 L430.12 305.37 L447.03 303.47 L463.94 311.49" stroke="#3a3a3a" stroke-width="0.85" fill="none"/>
<path d="M326.56 310.30L330.77 314.50M330.77 310.30L326.56 314.50" stroke="#111" stroke-width="0.8" fill="none"/>
<path d="M343.47 308.94L347.68 313.14M347.68 308.94L343.47 313.14" stroke="#111" stroke-width="0.8" fill="none"/>
<path d="M360.38 309.85L364.59 314.05M364.59 309.85L360.38 314.05" stroke="#111" stroke-width="0.8" fill="none"/>
<path d="M377.29 302.32L381.50 306.52M381.50 302.32L377.29 306.52" stroke="#111" stroke-width="0.8" fill="none"/>
<path d="M394.20 307.58L398.41 311.78M398.41 307.58L394.20 311.78" stroke="#111" stroke-width="0.8" fill="none"/>
<path d="M411.11 304.99L415.31 309.19M415.31 304.99L411.11 309.19" stroke="#111" stroke-width="0.8" fill="none"/>
<path d="M428.02 303.27L432.23 307.47M432.23 303.27L428.02 307.47" stroke="#111" stroke-width="0.8" fill="none"/>
<path d="M444.93 301.37L449.13 305.57M449.13 301.37L444.93 305.57" stroke="#111" stroke-width="0.8" fill="none"/>
<path d="M461.84 309.39L466.05 313.59M466.05 309.39L461.84 313.59" stroke="#111" stroke-width="0.8" fill="none"/>
<path d="M328.67 312.40 L345.57 311.95 L362.49 311.95 L379.39 311.04 L396.31 310.59 L413.21 310.59 L430.12 311.95 L447.03 309.68 L463.94 308.18" stroke="#3a3a3a" stroke-width="0.85" fill="none"/>
<path d="M326.56 310.30L330.77 314.50M330.77 310.30L326.56 314.50M328.67 310.30L328.67 314.50" stroke="#111" stroke-width="0.8" fill="none"/><rect x="327.72" y="311.45" width="1.89" height="1.89" fill="#111"/>
<path d="M343.47 309.85L347.68 314.05M347.68 309.85L343.47 314.05M345.57 309.85L345.57 314.05" stroke="#111" stroke-width="0.8" fill="none"/><rect x="344.63" y="311.00" width="1.89" height="1.89" fill="#111"/>
<path d="M360.38 309.85L364.59 314.05M364.59 309.85L360.38 314.05M362.49 309.85L362.49 314.05" stroke="#111" stroke-width="0.8" fill="none"/><rect x="361.54" y="311.00" width="1.89" height="1.89" fill="#111"/>
<path d="M377.29 308.94L381.50 313.14M381.50 308.94L377.29 313.14M379.39 308.94L379.39 313.14" stroke="#111" stroke-width="0.8" fill="none"/><rect x="378.45" y="310.09" width="1.89" height="1.89" fill="#111"/>
<path d="M394.20 308.49L398.41 312.69M398.41 308.49L394.20 312.69M396.31 308.49L396.31 312.69" stroke="#111" stroke-width="0.8" fill="none"/><rect x="395.36" y="309.64" width="1.89" height="1.89" fill="#111"/>
<path d="M411.11 308.49L415.31 312.69M415.31 308.49L411.11 312.69M413.21 308.49L413.21 312.69" stroke="#111" stroke-width="0.8" fill="none"/><rect x="412.27" y="309.64" width="1.89" height="1.89" fill="#111"/>
<path d="M428.02 309.85L432.23 314.05M432.23 309.85L428.02 314.05M430.12 309.85L430.12 314.05" stroke="#111" stroke-width="0.8" fill="none"/><rect x="429.18" y="311.00" width="1.89" height="1.89" fill="#111"/>
<path d="M444.93 307.58L449.13 311.78M449.13 307.58L444.93 311.78M447.03 307.58L447.03 311.78" stroke="#111" stroke-width="0.8" fill="none"/><rect x="446.09" y="308.73" width="1.89" height="1.89" fill="#111"/>
<path d="M461.84 306.08L466.05 310.28M466.05 306.08L461.84 310.28M463.94 306.08L463.94 310.28" stroke="#111" stroke-width="0.8" fill="none"/><rect x="463.00" y="307.24" width="1.89" height="1.89" fill="#111"/>
<path d="M328.67 308.59 L345.57 303.78 L362.49 308.32 L379.39 311.04 L396.31 304.60" stroke="#3a3a3a" stroke-width="0.85" fill="none"/>
<circle cx="328.67" cy="308.59" r="2.21" fill="#111"/>
<circle cx="345.57" cy="303.78" r="2.21" fill="#111"/>
<circle cx="362.49" cy="308.32" r="2.21" fill="#111"/>
<circle cx="379.39" cy="311.04" r="2.21" fill="#111"/>
<circle cx="396.31" cy="304.60" r="2.21" fill="#111"/>
<rect x="477.50" y="233.50" width="33.00" height="67.00" fill="none" stroke="#d6d6d6" stroke-width="1"/>
<line x1="479.80" y1="239.80" x2="493.60" y2="239.80" stroke="#555" stroke-width="1"/>
<path d="M486.20 237.62L488.15 239.80L486.20 241.98L484.25 239.80Z" fill="#111"/>
<text x="495.90" y="242.40" class="t7">P9</text>
<line x1="479.80" y1="251.04" x2="493.60" y2="251.04" stroke="#555" stroke-width="1"/>
<circle cx="486.20" cy="251.04" r="2.05" fill="#111"/>
<text x="495.90" y="253.64" class="t7">P10</text>
<line x1="479.80" y1="262.28" x2="493.60" y2="262.28" stroke="#555" stroke-width="1"/>
<path d="M486.20 260.33L488.15 263.84L484.25 263.84Z" fill="#111"/>
<text x="495.90" y="264.88" class="t7">P11</text>
<line x1="479.80" y1="273.52" x2="493.60" y2="273.52" stroke="#555" stroke-width="1"/>
<path d="M484.25 271.57L488.15 275.47M488.15 271.57L484.25 275.47" stroke="#111" stroke-width="0.8" fill="none"/>
<text x="495.90" y="276.12" class="t7">P12</text>
<line x1="479.80" y1="284.76" x2="493.60" y2="284.76" stroke="#555" stroke-width="1"/>
<path d="M484.25 282.81L488.15 286.71M488.15 282.81L484.25 286.71M486.20 282.81L486.20 286.71" stroke="#111" stroke-width="0.8" fill="none"/><rect x="485.32" y="283.88" width="1.75" height="1.75" fill="#111"/>
<text x="495.90" y="287.36" class="t7">P13</text>
<line x1="479.80" y1="296.00" x2="493.60" y2="296.00" stroke="#555" stroke-width="1"/>
<circle cx="486.20" cy="296.00" r="2.05" fill="#111"/>
<text x="495.90" y="298.60" class="t7">P14</text>
<line x1="42.30" y1="485.50" x2="213.00" y2="485.50" stroke="#dedede" stroke-width="1"/>
<line x1="42.30" y1="475.50" x2="213.00" y2="475.50" stroke="#dedede" stroke-width="1"/>
<line x1="42.30" y1="466.50" x2="213.00" y2="466.50" stroke="#dedede" stroke-width="1"/>
<line x1="42.30" y1="457.50" x2="213.00" y2="457.50" stroke="#dedede" stroke-width="1"/>
<line x1="42.30" y1="447.50" x2="213.00" y2="447.50" stroke="#dedede" stroke-width="1"/>
<line x1="42.30" y1="438.50" x2="213.00" y2="438.50" stroke="#dedede" stroke-width="1"/>
<line x1="42.30" y1="428.50" x2="213.00" y2="428.50" stroke="#dedede" stroke-width="1"/>
<line x1="42.30" y1="419.50" x2="213.00" y2="419.50" stroke="#dedede" stroke-width="1"/>
<line x1="42.30" y1="410.50" x2="213.00" y2="410.50" stroke="#dedede" stroke-width="1"/>
<line x1="42.30" y1="400.50" x2="213.00" y2="400.50" stroke="#dedede" stroke-width="1"/>
<rect x="42.50" y="400.50" width="170.00" height="94.00" fill="none" stroke="#a8a8a8" stroke-width="1"/>
<line x1="42.50" y1="400.00" x2="42.50" y2="495.00" stroke="#b4b4b4" stroke-width="1"/>
<line x1="42.00" y1="494.50" x2="212.50" y2="494.50" stroke="#b4b4b4" stroke-width="1"/>
<line x1="40.00" y1="494.50" x2="42.50" y2="494.50" stroke="#b4b4b4" stroke-width="1"/>
<text transform="translate(37.20 497.40) scale(0.88,1)" text-anchor="end" class="tn">0</text>
<line x1="40.00" y1="485.50" x2="42.50" y2="485.50" stroke="#b4b4b4" stroke-width="1"/>
<text transform="translate(37.20 487.98) scale(0.88,1)" text-anchor="end" class="tn">200</text>
<line x1="40.00" y1="475.50" x2="42.50" y2="475.50" stroke="#b4b4b4" stroke-width="1"/>
<text transform="translate(37.20 478.56) scale(0.88,1)" text-anchor="end" class="tn">400</text>
<line x1="40.00" y1="466.50" x2="42.50" y2="466.50" stroke="#b4b4b4" stroke-width="1"/>
<text transform="translate(37.20 469.14) scale(0.88,1)" text-anchor="end" class="tn">600</text>
<line x1="40.00" y1="457.50" x2="42.50" y2="457.50" stroke="#b4b4b4" stroke-width="1"/>
<text transform="translate(37.20 459.72) scale(0.88,1)" text-anchor="end" class="tn">800</text>
<line x1="40.00" y1="447.50" x2="42.50" y2="447.50" stroke="#b4b4b4" stroke-width="1"/>
<text transform="translate(37.20 450.30) scale(0.88,1)" text-anchor="end" class="tn">1000</text>
<line x1="40.00" y1="438.50" x2="42.50" y2="438.50" stroke="#b4b4b4" stroke-width="1"/>
<text transform="translate(37.20 440.88) scale(0.88,1)" text-anchor="end" class="tn">1200</text>
<line x1="40.00" y1="428.50" x2="42.50" y2="428.50" stroke="#b4b4b4" stroke-width="1"/>
<text transform="translate(37.20 431.46) scale(0.88,1)" text-anchor="end" class="tn">1400</text>
<line x1="40.00" y1="419.50" x2="42.50" y2="419.50" stroke="#b4b4b4" stroke-width="1"/>
<text transform="translate(37.20 422.04) scale(0.88,1)" text-anchor="end" class="tn">1600</text>
<line x1="40.00" y1="410.50" x2="42.50" y2="410.50" stroke="#b4b4b4" stroke-width="1"/>
<text transform="translate(37.20 412.62) scale(0.88,1)" text-anchor="end" class="tn">1800</text>
<line x1="40.00" y1="400.50" x2="42.50" y2="400.50" stroke="#b4b4b4" stroke-width="1"/>
<text transform="translate(37.20 403.20) scale(0.88,1)" text-anchor="end" class="tn">2000</text>
<text transform="translate(51.03 508.20) scale(0.88,1)" text-anchor="middle" class="tn">1</text>
<text transform="translate(68.10 508.20) scale(0.88,1)" text-anchor="middle" class="tn">2</text>
<text transform="translate(85.17 508.20) scale(0.88,1)" text-anchor="middle" class="tn">3</text>
<text transform="translate(102.24 508.20) scale(0.88,1)" text-anchor="middle" class="tn">4</text>
<text transform="translate(119.31 508.20) scale(0.88,1)" text-anchor="middle" class="tn">5</text>
<text transform="translate(136.38 508.20) scale(0.88,1)" text-anchor="middle" class="tn">6</text>
<text transform="translate(153.45 508.20) scale(0.88,1)" text-anchor="middle" class="tn">7</text>
<text transform="translate(170.52 508.20) scale(0.88,1)" text-anchor="middle" class="tn">8</text>
<text transform="translate(187.59 508.20) scale(0.88,1)" text-anchor="middle" class="tn">9</text>
<text transform="translate(204.66 508.20) scale(0.88,1)" text-anchor="middle" class="tn">12</text>
<text transform="translate(53.00 381.40) scale(0.9,1)" class="tb" textLength="154.00" lengthAdjust="spacing">Effector memory T-cells dose level 1</text>
<text transform="translate(96.90 521.00) scale(0.9,1)" class="tm" textLength="68.89" lengthAdjust="spacing">Months after SCT</text>
<text transform="translate(8.30 453.80) rotate(-90) scale(0.9,1)" x="0" y="0" text-anchor="middle" class="ty" textLength="99.33" lengthAdjust="spacing">CD4/8+CD45RA-CCR-7-ve</text>
<text transform="translate(16.80 449.30) rotate(-90) scale(0.9,1)" x="0" y="0" text-anchor="middle" class="ty" textLength="29.33" lengthAdjust="spacing">cells/uL</text>
<path d="M50.83 494.80 L67.91 494.80 L84.97 494.80 L102.05 493.86 L119.11 493.86 L136.19 494.80 L153.25 479.63 L170.32 465.22 L187.39 494.80 L204.46 494.80" stroke="#3a3a3a" stroke-width="0.85" fill="none"/>
<path d="M50.83 492.11L53.23 494.80L50.83 497.49L48.43 494.80Z" fill="#111"/>
<path d="M67.91 492.11L70.31 494.80L67.91 497.49L65.50 494.80Z" fill="#111"/>
<path d="M84.97 492.11L87.38 494.80L84.97 497.49L82.57 494.80Z" fill="#111"/>
<path d="M102.05 491.17L104.45 493.86L102.05 496.55L99.64 493.86Z" fill="#111"/>
<path d="M119.11 491.17L121.52 493.86L119.11 496.55L116.71 493.86Z" fill="#111"/>
<path d="M136.19 492.11L138.59 494.80L136.19 497.49L133.78 494.80Z" fill="#111"/>
<path d="M153.25 476.95L155.66 479.63L153.25 482.32L150.85 479.63Z" fill="#111"/>
<path d="M170.32 462.53L172.72 465.22L170.32 467.91L167.92 465.22Z" fill="#111"/>
<path d="M187.39 492.11L189.79 494.80L187.39 497.49L184.99 494.80Z" fill="#111"/>
<path d="M204.46 492.11L206.86 494.80L204.46 497.49L202.06 494.80Z" fill="#111"/>
<path d="M50.83 494.80 L67.91 494.80 L84.97 494.80 L102.05 493.39 L119.11 493.86 L136.19 488.35 L153.25 484.49" stroke="#3a3a3a" stroke-width="0.85" fill="none"/>
<rect x="48.79" y="492.76" width="4.08" height="4.08" fill="#111"/>
<rect x="65.86" y="492.76" width="4.08" height="4.08" fill="#111"/>
<rect x="82.93" y="492.76" width="4.08" height="4.08" fill="#111"/>
<rect x="100.00" y="491.35" width="4.08" height="4.08" fill="#111"/>
<rect x="117.07" y="491.82" width="4.08" height="4.08" fill="#111"/>
<rect x="134.15" y="486.31" width="4.08" height="4.08" fill="#111"/>
<rect x="151.22" y="482.45" width="4.08" height="4.08" fill="#111"/>
<path d="M50.83 494.80 L67.91 494.80 L84.97 494.80 L102.05 490.09 L119.11 477.18 L136.19 474.22 L153.25 490.47 L170.32 481.33 L187.39 479.63" stroke="#3a3a3a" stroke-width="0.85" fill="none"/>
<path d="M50.83 492.40L53.23 496.72L48.43 496.72Z" fill="#111"/>
<path d="M67.91 492.40L70.31 496.72L65.50 496.72Z" fill="#111"/>
<path d="M84.97 492.40L87.38 496.72L82.57 496.72Z" fill="#111"/>
<path d="M102.05 487.69L104.45 492.01L99.64 492.01Z" fill="#111"/>
<path d="M119.11 474.78L121.52 479.10L116.71 479.10Z" fill="#111"/>
<path d="M136.19 471.82L138.59 476.14L133.78 476.14Z" fill="#111"/>
<path d="M153.25 488.07L155.66 492.39L150.85 492.39Z" fill="#111"/>
<path d="M170.32 478.93L172.72 483.25L167.92 483.25Z" fill="#111"/>
<path d="M187.39 477.23L189.79 481.55L184.99 481.55Z" fill="#111"/>
<path d="M50.83 494.80 L67.91 493.86 L84.97 493.86 L102.05 492.92 L119.11 491.97 L136.19 492.92" stroke="#3a3a3a" stroke-width="0.85" fill="none"/>
<path d="M48.43 492.40L53.23 497.20M53.23 492.40L48.43 497.20" stroke="#111" stroke-width="0.8" fill="none"/>
<path d="M65.50 491.46L70.31 496.26M70.31 491.46L65.50 496.26" stroke="#111" stroke-width="0.8" fill="none"/>
<path d="M82.57 491.46L87.38 496.26M87.38 491.46L82.57 496.26" stroke="#111" stroke-width="0.8" fill="none"/>
<path d="M99.64 490.52L104.45 495.32M104.45 490.52L99.64 495.32" stroke="#111" stroke-width="0.8" fill="none"/>
<path d="M116.71 489.57L121.52 494.37M121.52 489.57L116.71 494.37" stroke="#111" stroke-width="0.8" fill="none"/>
<path d="M133.78 490.52L138.59 495.32M138.59 490.52L133.78 495.32" stroke="#111" stroke-width="0.8" fill="none"/>
<path d="M50.83 494.80 L67.91 494.80 L84.97 494.80 L102.05 491.97 L119.11 491.50 L136.19 491.97" stroke="#3a3a3a" stroke-width="0.85" fill="none"/>
<path d="M48.43 492.40L53.23 497.20M53.23 492.40L48.43 497.20M50.83 492.40L50.83 497.20" stroke="#111" stroke-width="0.8" fill="none"/><rect x="49.75" y="493.72" width="2.16" height="2.16" fill="#111"/>
<path d="M65.50 492.40L70.31 497.20M70.31 492.40L65.50 497.20M67.91 492.40L67.91 497.20" stroke="#111" stroke-width="0.8" fill="none"/><rect x="66.83" y="493.72" width="2.16" height="2.16" fill="#111"/>
<path d="M82.57 492.40L87.38 497.20M87.38 492.40L82.57 497.20M84.97 492.40L84.97 497.20" stroke="#111" stroke-width="0.8" fill="none"/><rect x="83.89" y="493.72" width="2.16" height="2.16" fill="#111"/>
<path d="M99.64 489.57L104.45 494.37M104.45 489.57L99.64 494.37M102.05 489.57L102.05 494.37" stroke="#111" stroke-width="0.8" fill="none"/><rect x="100.97" y="490.89" width="2.16" height="2.16" fill="#111"/>
<path d="M116.71 489.10L121.52 493.90M121.52 489.10L116.71 493.90M119.11 489.10L119.11 493.90" stroke="#111" stroke-width="0.8" fill="none"/><rect x="118.03" y="490.42" width="2.16" height="2.16" fill="#111"/>
<path d="M133.78 489.57L138.59 494.37M138.59 489.57L133.78 494.37M136.19 489.57L136.19 494.37" stroke="#111" stroke-width="0.8" fill="none"/><rect x="135.10" y="490.89" width="2.16" height="2.16" fill="#111"/>
<path d="M50.83 494.80 L67.91 494.80 L84.97 494.80 L102.05 494.80 L119.11 494.80 L136.19 494.80 L153.25 494.80 L170.32 494.80" stroke="#3a3a3a" stroke-width="0.85" fill="none"/>
<circle cx="50.83" cy="494.80" r="2.52" fill="#111"/>
<circle cx="67.91" cy="494.80" r="2.52" fill="#111"/>
<circle cx="84.97" cy="494.80" r="2.52" fill="#111"/>
<circle cx="102.05" cy="494.80" r="2.52" fill="#111"/>
<circle cx="119.11" cy="494.80" r="2.52" fill="#111"/>
<circle cx="136.19" cy="494.80" r="2.52" fill="#111"/>
<circle cx="153.25" cy="494.80" r="2.52" fill="#111"/>
<circle cx="170.32" cy="494.80" r="2.52" fill="#111"/>
<path d="M50.83 494.80 L67.91 493.86 L84.97 493.86 L102.05 493.86" stroke="#3a3a3a" stroke-width="0.85" fill="none"/>
<path d="M50.83 492.40L50.83 497.20" stroke="#111" stroke-width="0.8" fill="none"/>
<path d="M67.91 491.46L67.91 496.26" stroke="#111" stroke-width="0.8" fill="none"/>
<path d="M84.97 491.46L84.97 496.26" stroke="#111" stroke-width="0.8" fill="none"/>
<path d="M102.05 491.46L102.05 496.26" stroke="#111" stroke-width="0.8" fill="none"/>
<rect x="218.50" y="407.50" width="30.00" height="79.00" fill="none" stroke="#d6d6d6" stroke-width="1"/>
<line x1="221.40" y1="414.20" x2="236.00" y2="414.20" stroke="#555" stroke-width="1"/>
<path d="M228.30 412.02L230.25 414.20L228.30 416.38L226.35 414.20Z" fill="#111"/>
<text x="238.20" y="415.80" class="t7">P1</text>
<line x1="221.40" y1="425.73" x2="236.00" y2="425.73" stroke="#555" stroke-width="1"/>
<rect x="226.64" y="424.07" width="3.31" height="3.31" fill="#111"/>
<text x="238.20" y="427.33" class="t7">P2</text>
<line x1="221.40" y1="437.26" x2="236.00" y2="437.26" stroke="#555" stroke-width="1"/>
<path d="M228.30 435.31L230.25 438.82L226.35 438.82Z" fill="#111"/>
<text x="238.20" y="438.86" class="t7">P3</text>
<line x1="221.40" y1="448.79" x2="236.00" y2="448.79" stroke="#555" stroke-width="1"/>
<path d="M226.35 446.84L230.25 450.74M230.25 446.84L226.35 450.74" stroke="#111" stroke-width="0.8" fill="none"/>
<text x="238.20" y="450.39" class="t7">P4</text>
<line x1="221.40" y1="460.32" x2="236.00" y2="460.32" stroke="#555" stroke-width="1"/>
<path d="M226.35 458.37L230.25 462.27M230.25 458.37L226.35 462.27M228.30 458.37L228.30 462.27" stroke="#111" stroke-width="0.8" fill="none"/><rect x="227.42" y="459.44" width="1.75" height="1.75" fill="#111"/>
<text x="238.20" y="461.92" class="t7">P5</text>
<line x1="221.40" y1="471.85" x2="236.00" y2="471.85" stroke="#555" stroke-width="1"/>
<circle cx="228.30" cy="471.85" r="2.05" fill="#111"/>
<text x="238.20" y="473.45" class="t7">P6</text>
<line x1="221.40" y1="483.38" x2="236.00" y2="483.38" stroke="#555" stroke-width="1"/>
<path d="M228.30 481.43L228.30 485.33" stroke="#111" stroke-width="0.8" fill="none"/>
<text x="238.20" y="484.98" class="t7">P7</text>
<line x1="303.60" y1="485.50" x2="470.30" y2="485.50" stroke="#dedede" stroke-width="1"/>
<line x1="303.60" y1="476.50" x2="470.30" y2="476.50" stroke="#dedede" stroke-width="1"/>
<line x1="303.60" y1="466.50" x2="470.30" y2="466.50" stroke="#dedede" stroke-width="1"/>
<line x1="303.60" y1="457.50" x2="470.30" y2="457.50" stroke="#dedede" stroke-width="1"/>
<line x1="303.60" y1="447.50" x2="470.30" y2="447.50" stroke="#dedede" stroke-width="1"/>
<line x1="303.60" y1="438.50" x2="470.30" y2="438.50" stroke="#dedede" stroke-width="1"/>
<line x1="303.60" y1="428.50" x2="470.30" y2="428.50" stroke="#dedede" stroke-width="1"/>
<line x1="303.60" y1="419.50" x2="470.30" y2="419.50" stroke="#dedede" stroke-width="1"/>
<line x1="303.60" y1="409.50" x2="470.30" y2="409.50" stroke="#dedede" stroke-width="1"/>
<line x1="303.60" y1="400.50" x2="470.30" y2="400.50" stroke="#dedede" stroke-width="1"/>
<rect x="303.50" y="400.50" width="167.00" height="95.00" fill="none" stroke="#a8a8a8" stroke-width="1"/>
<line x1="303.50" y1="400.00" x2="303.50" y2="496.00" stroke="#aaaaaa" stroke-width="1"/>
<line x1="303.00" y1="495.50" x2="470.50" y2="495.50" stroke="#aaaaaa" stroke-width="1"/>
<text transform="translate(298.60 498.00) scale(0.88,1)" text-anchor="end" class="tn">0</text>
<text transform="translate(298.60 488.50) scale(0.88,1)" text-anchor="end" class="tn">200</text>
<text transform="translate(298.60 479.00) scale(0.88,1)" text-anchor="end" class="tn">400</text>
<text transform="translate(298.60 469.50) scale(0.88,1)" text-anchor="end" class="tn">600</text>
<text transform="translate(298.60 460.00) scale(0.88,1)" text-anchor="end" class="tn">800</text>
<text transform="translate(298.60 450.50) scale(0.88,1)" text-anchor="end" class="tn">1000</text>
<text transform="translate(298.60 441.00) scale(0.88,1)" text-anchor="end" class="tn">1200</text>
<text transform="translate(298.60 431.50) scale(0.88,1)" text-anchor="end" class="tn">1400</text>
<text transform="translate(298.60 422.00) scale(0.88,1)" text-anchor="end" class="tn">1600</text>
<text transform="translate(298.60 412.50) scale(0.88,1)" text-anchor="end" class="tn">1800</text>
<text transform="translate(298.60 403.00) scale(0.88,1)" text-anchor="end" class="tn">2000</text>
<text transform="translate(312.13 507.60) scale(0.88,1)" text-anchor="middle" class="tn">1</text>
<text transform="translate(328.80 507.60) scale(0.88,1)" text-anchor="middle" class="tn">2</text>
<text transform="translate(345.47 507.60) scale(0.88,1)" text-anchor="middle" class="tn">3</text>
<text transform="translate(362.14 507.60) scale(0.88,1)" text-anchor="middle" class="tn">4</text>
<text transform="translate(378.81 507.60) scale(0.88,1)" text-anchor="middle" class="tn">5</text>
<text transform="translate(395.48 507.60) scale(0.88,1)" text-anchor="middle" class="tn">6</text>
<text transform="translate(412.15 507.60) scale(0.88,1)" text-anchor="middle" class="tn">7</text>
<text transform="translate(428.82 507.60) scale(0.88,1)" text-anchor="middle" class="tn">8</text>
<text transform="translate(445.49 507.60) scale(0.88,1)" text-anchor="middle" class="tn">9</text>
<text transform="translate(462.16 507.60) scale(0.88,1)" text-anchor="middle" class="tn">12</text>
<text transform="translate(314.70 380.00) scale(0.9,1)" class="tb" textLength="153.22" lengthAdjust="spacing">Effector memory T-cells dose level 2</text>
<text transform="translate(356.90 520.00) scale(0.9,1)" class="tm" textLength="67.56" lengthAdjust="spacing">Months after SCT</text>
<text transform="translate(270.50 452.90) rotate(-90) scale(0.9,1)" x="0" y="0" text-anchor="middle" class="ty" textLength="94.44" lengthAdjust="spacing">CD4/8+CD45RA-CCR-7-ve</text>
<text transform="translate(278.00 448.05) rotate(-90) scale(0.9,1)" x="0" y="0" text-anchor="middle" class="ty" textLength="27.67" lengthAdjust="spacing">cells/uL</text>
<path d="M311.94 495.40 L328.61 495.40 L345.28 472.69 L361.94 459.87 L378.62 469.65 L395.29 431.42 L411.96 473.93" stroke="#3a3a3a" stroke-width="0.85" fill="none"/>
<path d="M311.94 492.71L314.33 495.40L311.94 498.09L309.54 495.40Z" fill="#111"/>
<path d="M328.61 492.71L331.00 495.40L328.61 498.09L326.21 495.40Z" fill="#111"/>
<path d="M345.28 470.01L347.68 472.69L345.28 475.38L342.88 472.69Z" fill="#111"/>
<path d="M361.94 457.18L364.34 459.87L361.94 462.56L359.55 459.87Z" fill="#111"/>
<path d="M378.62 466.97L381.01 469.65L378.62 472.34L376.22 469.65Z" fill="#111"/>
<path d="M395.29 428.73L397.69 431.42L395.29 434.11L392.89 431.42Z" fill="#111"/>
<path d="M411.96 471.24L414.36 473.93L411.96 476.62L409.56 473.93Z" fill="#111"/>
<path d="M311.94 493.97 L328.61 493.97 L345.28 475.40 L361.94 476.30 L378.62 468.80 L395.29 453.12" stroke="#3a3a3a" stroke-width="0.85" fill="none"/>
<circle cx="311.94" cy="493.97" r="2.10" fill="#111"/>
<circle cx="328.61" cy="493.97" r="2.10" fill="#111"/>
<circle cx="345.28" cy="475.40" r="2.10" fill="#111"/>
<circle cx="361.94" cy="476.30" r="2.10" fill="#111"/>
<circle cx="378.62" cy="468.80" r="2.10" fill="#111"/>
<circle cx="395.29" cy="453.12" r="2.10" fill="#111"/>
<path d="M311.94 495.40 L328.61 495.40 L345.28 495.40 L361.94 476.64 L378.62 480.29 L395.29 453.12 L411.96 484.38" stroke="#3a3a3a" stroke-width="0.85" fill="none"/>
<path d="M311.94 493.00L314.33 497.32L309.54 497.32Z" fill="#111"/>
<path d="M328.61 493.00L331.00 497.32L326.21 497.32Z" fill="#111"/>
<path d="M345.28 493.00L347.68 497.32L342.88 497.32Z" fill="#111"/>
<path d="M361.94 474.24L364.34 478.56L359.55 478.56Z" fill="#111"/>
<path d="M378.62 477.89L381.01 482.21L376.22 482.21Z" fill="#111"/>
<path d="M395.29 450.73L397.69 455.05L392.89 455.05Z" fill="#111"/>
<path d="M411.96 481.98L414.36 486.30L409.56 486.30Z" fill="#111"/>
<path d="M311.94 495.40 L328.61 494.45 L345.28 488.94 L361.94 470.94 L378.62 465.95 L395.29 453.12 L411.96 405.39 L428.62 432.41 L445.30 402.39 L461.97 446.66" stroke="#3a3a3a" stroke-width="0.85" fill="none"/>
<path d="M309.54 493.00L314.33 497.80M314.33 493.00L309.54 497.80" stroke="#111" stroke-width="0.8" fill="none"/>
<path d="M326.21 492.05L331.00 496.85M331.00 492.05L326.21 496.85" stroke="#111" stroke-width="0.8" fill="none"/>
<path d="M342.88 486.54L347.68 491.34M347.68 486.54L342.88 491.34" stroke="#111" stroke-width="0.8" fill="none"/>
<path d="M359.55 468.54L364.34 473.34M364.34 468.54L359.55 473.34" stroke="#111" stroke-width="0.8" fill="none"/>
<path d="M376.22 463.55L381.01 468.35M381.01 463.55L376.22 468.35" stroke="#111" stroke-width="0.8" fill="none"/>
<path d="M392.89 450.73L397.69 455.52M397.69 450.73L392.89 455.52" stroke="#111" stroke-width="0.8" fill="none"/>
<path d="M409.56 402.99L414.36 407.79M414.36 402.99L409.56 407.79" stroke="#111" stroke-width="0.8" fill="none"/>
<path d="M426.23 430.01L431.02 434.81M431.02 430.01L426.23 434.81" stroke="#111" stroke-width="0.8" fill="none"/>
<path d="M442.90 400.00L447.69 404.79M447.69 400.00L442.90 404.79" stroke="#111" stroke-width="0.8" fill="none"/>
<path d="M459.57 444.26L464.37 449.06M464.37 444.26L459.57 449.06" stroke="#111" stroke-width="0.8" fill="none"/>
<path d="M311.94 495.40 L328.61 495.40 L345.28 470.94 L361.94 440.87 L378.62 462.48 L395.29 489.94 L411.96 484.00 L428.62 470.94 L445.30 483.48 L461.97 471.89" stroke="#3a3a3a" stroke-width="0.85" fill="none"/>
<path d="M309.54 493.00L314.33 497.80M314.33 493.00L309.54 497.80M311.94 493.00L311.94 497.80" stroke="#111" stroke-width="0.8" fill="none"/><rect x="310.86" y="494.32" width="2.16" height="2.16" fill="#111"/>
<path d="M326.21 493.00L331.00 497.80M331.00 493.00L326.21 497.80M328.61 493.00L328.61 497.80" stroke="#111" stroke-width="0.8" fill="none"/><rect x="327.53" y="494.32" width="2.16" height="2.16" fill="#111"/>
<path d="M342.88 468.54L347.68 473.34M347.68 468.54L342.88 473.34M345.28 468.54L345.28 473.34" stroke="#111" stroke-width="0.8" fill="none"/><rect x="344.20" y="469.86" width="2.16" height="2.16" fill="#111"/>
<path d="M359.55 438.47L364.34 443.27M364.34 438.47L359.55 443.27M361.94 438.47L361.94 443.27" stroke="#111" stroke-width="0.8" fill="none"/><rect x="360.87" y="439.79" width="2.16" height="2.16" fill="#111"/>
<path d="M376.22 460.08L381.01 464.88M381.01 460.08L376.22 464.88M378.62 460.08L378.62 464.88" stroke="#111" stroke-width="0.8" fill="none"/><rect x="377.54" y="461.40" width="2.16" height="2.16" fill="#111"/>
<path d="M392.89 487.54L397.69 492.34M397.69 487.54L392.89 492.34M395.29 487.54L395.29 492.34" stroke="#111" stroke-width="0.8" fill="none"/><rect x="394.21" y="488.86" width="2.16" height="2.16" fill="#111"/>
<path d="M409.56 481.60L414.36 486.40M414.36 481.60L409.56 486.40M411.96 481.60L411.96 486.40" stroke="#111" stroke-width="0.8" fill="none"/><rect x="410.88" y="482.92" width="2.16" height="2.16" fill="#111"/>
<path d="M426.23 468.54L431.02 473.34M431.02 468.54L426.23 473.34M428.62 468.54L428.62 473.34" stroke="#111" stroke-width="0.8" fill="none"/><rect x="427.55" y="469.86" width="2.16" height="2.16" fill="#111"/>
<path d="M442.90 481.08L447.69 485.88M447.69 481.08L442.90 485.88M445.30 481.08L445.30 485.88" stroke="#111" stroke-width="0.8" fill="none"/><rect x="444.22" y="482.40" width="2.16" height="2.16" fill="#111"/>
<path d="M459.57 469.49L464.37 474.29M464.37 469.49L459.57 474.29M461.97 469.49L461.97 474.29" stroke="#111" stroke-width="0.8" fill="none"/><rect x="460.89" y="470.81" width="2.16" height="2.16" fill="#111"/>
<path d="M328.61 466.57 L345.28 452.75 L361.94 453.22 L378.62 455.02 L395.29 453.12" stroke="#3a3a3a" stroke-width="0.85" fill="none"/>
<circle cx="328.61" cy="466.57" r="1.89" fill="#111"/>
<circle cx="345.28" cy="452.75" r="1.89" fill="#111"/>
<circle cx="361.94" cy="453.22" r="1.89" fill="#111"/>
<circle cx="378.62" cy="455.02" r="1.89" fill="#111"/>
<circle cx="395.29" cy="453.12" r="1.89" fill="#111"/>
<rect x="359.90" y="438.83" width="4.08" height="4.08" fill="#111"/>
<rect x="376.75" y="460.61" width="3.74" height="3.74" fill="#111"/>
<rect x="476.50" y="413.50" width="32.00" height="67.00" fill="none" stroke="#d6d6d6" stroke-width="1"/>
<line x1="478.10" y1="419.80" x2="492.40" y2="419.80" stroke="#555" stroke-width="1"/>
<path d="M485.30 417.62L487.25 419.80L485.30 421.98L483.35 419.80Z" fill="#111"/>
<text x="494.50" y="422.40" class="t7">P9</text>
<line x1="478.10" y1="430.88" x2="492.40" y2="430.88" stroke="#555" stroke-width="1"/>
<circle cx="485.30" cy="430.88" r="2.05" fill="#111"/>
<text x="494.50" y="433.48" class="t7">P10</text>
<line x1="478.10" y1="441.96" x2="492.40" y2="441.96" stroke="#555" stroke-width="1"/>
<path d="M485.30 440.01L487.25 443.52L483.35 443.52Z" fill="#111"/>
<text x="494.50" y="444.56" class="t7">P11</text>
<line x1="478.10" y1="453.04" x2="492.40" y2="453.04" stroke="#555" stroke-width="1"/>
<path d="M483.35 451.09L487.25 454.99M487.25 451.09L483.35 454.99" stroke="#111" stroke-width="0.8" fill="none"/>
<text x="494.50" y="455.64" class="t7">P12</text>
<line x1="478.10" y1="464.12" x2="492.40" y2="464.12" stroke="#555" stroke-width="1"/>
<path d="M483.35 462.17L487.25 466.07M487.25 462.17L483.35 466.07M485.30 462.17L485.30 466.07" stroke="#111" stroke-width="0.8" fill="none"/><rect x="484.42" y="463.24" width="1.75" height="1.75" fill="#111"/>
<text x="494.50" y="466.72" class="t7">P13</text>
<line x1="478.10" y1="475.20" x2="492.40" y2="475.20" stroke="#555" stroke-width="1"/>
<circle cx="485.30" cy="475.20" r="2.05" fill="#111"/>
<text x="494.50" y="477.80" class="t7">P14</text>
</svg>
</body></html>
